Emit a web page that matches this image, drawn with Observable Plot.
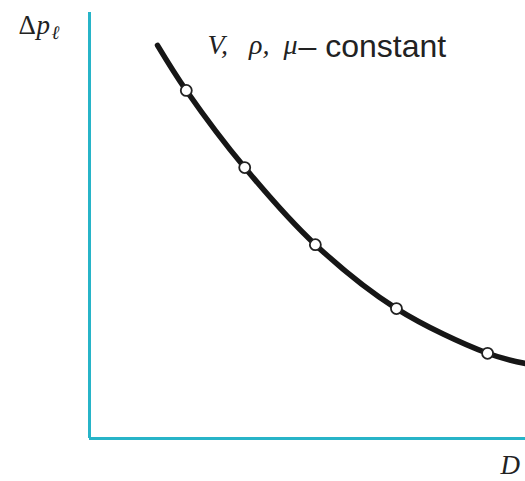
<!DOCTYPE html>
<html>
<head>
<meta charset="utf-8">
<script src="https://cdn.jsdelivr.net/npm/d3@7"></script>
<script src="https://cdn.jsdelivr.net/npm/@observablehq/plot@0.6"></script>
<style>
  html, body { margin: 0; padding: 0; background: #fff; }
  svg { display: block; }
</style>
</head>
<body>
<div id="chart"></div>
<script>
// Curve through (D, Δp) — schematic, arbitrary units 0..100
const curveD  = [15.6, 22.2, 35.6, 51.8, 70.4, 91.3, 100];
const curveDp = [92.3, 81.7, 63.6, 45.5, 30.5, 20.0, 17.6];
// Open circle data points
const pointD  = [22.2, 35.6, 51.8, 70.4, 91.3];
const pointDp = [81.7, 63.6, 45.5, 30.5, 20.0];

const curve = curveD.map((d, i) => ({D: d, dp: curveDp[i]}));
const points = pointD.map((d, i) => ({D: d, dp: pointDp[i]}));

const axisColor = "#27b4c8";
const serif = "'Liberation Serif', 'DejaVu Serif', serif";
const sans = "'Liberation Sans', Arial, sans-serif";

const chart = Plot.plot({
  width: 525,
  height: 481,
  marginLeft: 89,
  marginRight: 0,
  marginTop: 12,
  marginBottom: 43,
  x: {domain: [0, 100], axis: null},
  y: {domain: [0, 100], axis: null},
  marks: [
    Plot.ruleX([0], {stroke: axisColor, strokeWidth: 3}),
    Plot.ruleY([0], {stroke: axisColor, strokeWidth: 3}),
    Plot.line(curve, {x: "D", y: "dp", curve: "catmull-rom", stroke: "#161616", strokeWidth: 5.5}),
    Plot.dot(points, {x: "D", y: "dp", r: 5.5, fill: "white", stroke: "#222", strokeWidth: 1.8}),
    // y label Δp_ℓ
    Plot.text(["Δ"], {frameAnchor: "top-left", dx: -71, dy: 21, textAnchor: "start", lineAnchor: "bottom",
      fontFamily: serif, fontSize: 27, fill: "#222"}),
    Plot.text(["p"], {frameAnchor: "top-left", dx: -53, dy: 21, textAnchor: "start", lineAnchor: "bottom",
      fontFamily: serif, fontStyle: "italic", fontSize: 27, fill: "#222"}),
    Plot.text(["ℓ"], {frameAnchor: "top-left", dx: -38, dy: 26, textAnchor: "start", lineAnchor: "bottom",
      fontFamily: serif, fontStyle: "italic", fontSize: 19, fill: "#222"}),
    // x label D
    Plot.text(["D"], {frameAnchor: "bottom-right", dx: -25, dy: 35, textAnchor: "start", lineAnchor: "bottom",
      fontFamily: serif, fontStyle: "italic", fontSize: 27, fill: "#222"}),
    // annotation
    Plot.text(["V,\u00a0\u00a0\u00a0ρ,\u00a0\u00a0μ"], {frameAnchor: "top-left", dx: 208, dy: 41, textAnchor: "end", lineAnchor: "bottom",
      fontFamily: serif, fontStyle: "italic", fontSize: 28, fill: "#222"}),
    Plot.text(["– constant"], {frameAnchor: "top-left", dx: 209, dy: 44, textAnchor: "start", lineAnchor: "bottom",
      fontFamily: sans, fontSize: 32, fill: "#222"})
  ]
});
document.getElementById("chart").append(chart);
</script>
</body>
</html>
